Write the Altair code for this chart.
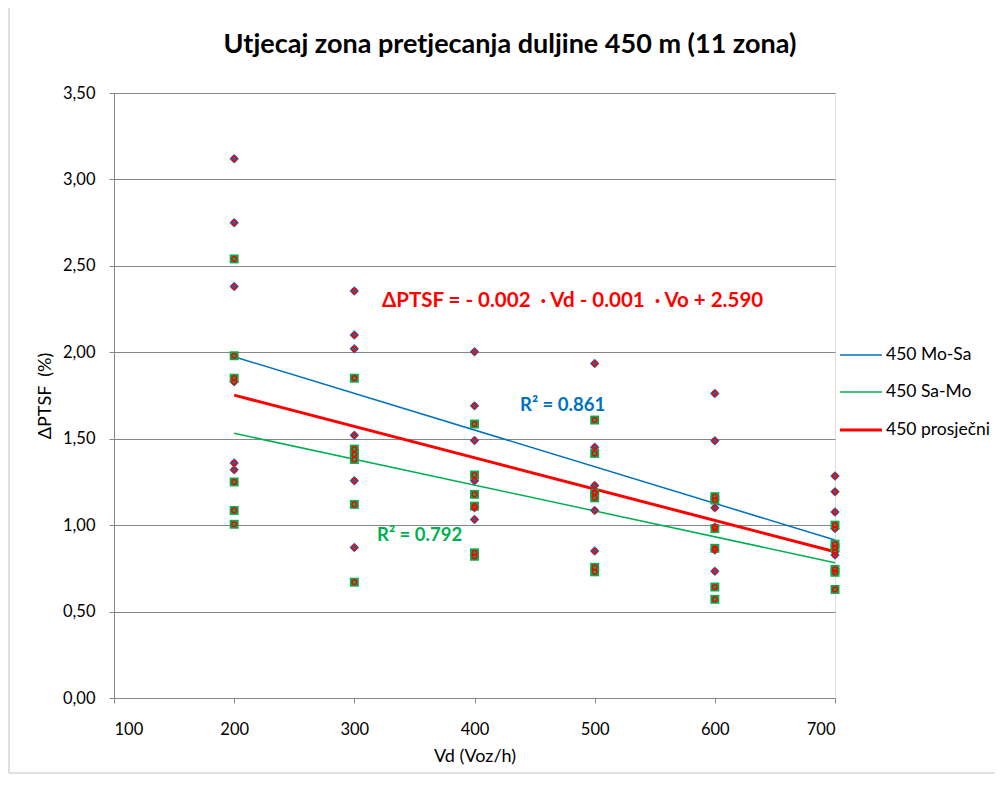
import altair as alt
import pandas as pd

# ---- data ----
vd_mo_sa = [200]*6 + [300]*6 + [400]*6 + [500]*6 + [600]*6 + [700]*6
ptsf_mo_sa = [3.12, 2.75, 2.38, 1.83, 1.36, 1.32,
              2.355, 2.10, 2.02, 1.52, 1.257, 0.87,
              2.003, 1.69, 1.49, 1.257, 1.10, 1.033,
              1.935, 1.45, 1.23, 1.19, 1.085, 0.85,
              1.762, 1.488, 1.10, 0.99, 0.856, 0.733,
              1.284, 1.193, 1.076, 0.98, 0.846, 0.827]
vd_sa_mo = [200]*6 + [300]*6 + [400]*6 + [500]*6 + [600]*6 + [700]*6
ptsf_sa_mo = [2.54, 1.98, 1.85, 1.25, 1.085, 1.005,
              1.85, 1.44, 1.41, 1.38, 1.12, 0.67,
              1.585, 1.29, 1.178, 1.11, 0.84, 0.82,
              1.608, 1.415, 1.184, 1.158, 0.756, 0.73,
              1.165, 1.145, 0.98, 0.866, 0.642, 0.571,
              1.00, 0.89, 0.87, 0.744, 0.727, 0.628]

trend_x = [200, 700]
trend_mo_sa = [1.974, 0.914]
trend_sa_mo = [1.531, 0.783]
trend_avg = [1.752, 0.846]

series_names = ["450 Mo-Sa", "450 Sa-Mo", "450 prosječni"]
series_colors = ["#0070C0", "#00B050", "#FF0000"]

y_ticks = [0, 0.5, 1, 1.5, 2, 2.5, 3, 3.5]
x_ticks = [100, 200, 300, 400, 500, 600, 700]

title_text = "Utjecaj zona pretjecanja duljine 450 m (11 zona)"

FONT = "Lato"
NB = "\u00a0"

df_mo = pd.DataFrame({"Vd": vd_mo_sa, "PTSF": ptsf_mo_sa})
df_sa = pd.DataFrame({"Vd": vd_sa_mo, "PTSF": ptsf_sa_mo})
df_all = pd.concat([df_mo, df_sa], ignore_index=True)

df_trend = pd.DataFrame({
    "Vd": trend_x * 3,
    "PTSF": trend_mo_sa + trend_sa_mo + trend_avg,
    "series": [series_names[0]]*2 + [series_names[1]]*2 + [series_names[2]]*2,
})

xs = alt.Scale(domain=[100, 700], nice=False)
ys = alt.Scale(domain=[0, 3.5], nice=False)

x_enc = alt.X("Vd:Q", scale=xs,
              axis=alt.Axis(values=x_ticks, title="Vd (Voz/h)", grid=False,
                            domainColor="#868686", tickColor="#868686", tickSize=5,
                            labelFont=FONT, labelFontSize=16.5, labelColor="#000000",
                            labelPadding=18,
                            titleFont=FONT, titleFontSize=18, titleFontWeight="normal",
                            titleColor="#000000", titlePadding=10))
y_enc = alt.Y("PTSF:Q", scale=ys,
              axis=alt.Axis(values=y_ticks, title="ΔPTSF" + NB + NB + "(%)",
                            labelExpr="replace(format(datum.value, '.2f'), '.', ',')",
                            grid=True, gridColor="#868686", gridWidth=1,
                            domainColor="#868686", tickColor="#868686", tickSize=5,
                            labelFont=FONT, labelFontSize=16.5, labelColor="#000000",
                            labelPadding=14,
                            titleFont=FONT, titleFontSize=18, titleFontWeight="normal",
                            titleColor="#000000", titlePadding=8))

base_axes = alt.Chart(df_all).mark_point(opacity=0).encode(x=x_enc, y=y_enc)

blue_pts = alt.Chart(df_mo).mark_point(shape="diamond", filled=True, size=90,
                                       color=series_colors[0], opacity=1).encode(
    x=alt.X("Vd:Q", scale=xs), y=alt.Y("PTSF:Q", scale=ys))
green_pts = alt.Chart(df_sa).mark_point(shape="square", filled=True, size=80,
                                        color=series_colors[1], opacity=1).encode(
    x=alt.X("Vd:Q", scale=xs), y=alt.Y("PTSF:Q", scale=ys))
red_pts = alt.Chart(df_all).mark_point(shape="circle", filled=False, size=22,
                                       color=series_colors[2], strokeWidth=1.5,
                                       opacity=1).encode(
    x=alt.X("Vd:Q", scale=xs), y=alt.Y("PTSF:Q", scale=ys))

def trend(name, color, width):
    return alt.Chart(df_trend[df_trend.series == name]).mark_line(
        color=color, strokeWidth=width).encode(
        x=alt.X("Vd:Q", scale=xs), y=alt.Y("PTSF:Q", scale=ys))

lines = [trend(series_names[0], series_colors[0], 1.5),
         trend(series_names[1], series_colors[1], 1.5),
         trend(series_names[2], series_colors[2], 3)]

def label(text, x, y, color, size, weight="bold", align="left"):
    return alt.Chart(pd.DataFrame({"t": [text]})).mark_text(
        font=FONT, fontSize=size, fontWeight=weight, color=color, align=align,
        baseline="middle").encode(text="t:N", x=alt.value(x), y=alt.value(y))

eq = ("ΔPTSF = - 0.002" + NB + NB + "· Vd - 0.001" + NB + NB + "· Vo + 2.590")
annots = [
    label(title_text, 396, -48, "#000000", 27, align="center"),
    label(eq, 268, 208, "#FF0000", 20.5),
    label("R² = 0.861", 406, 312, "#0070C0", 18.5),
    label("R² = 0.792", 263, 442, "#00B050", 18.5),
]

# manual legend
legend_layers = []
leg_y = [262, 299, 337]
widths = [1.5, 1.5, 3]
for name, color, ly, w in zip(series_names, series_colors, leg_y, widths):
    legend_layers.append(
        alt.Chart(pd.DataFrame({"n": [name]})).mark_rule(color=color, strokeWidth=w,
                                                         clip=False).encode(
            x=alt.value(726), x2=alt.value(768), y=alt.value(ly)))
    legend_layers.append(label(name, 772, ly, "#000000", 17.5, weight="normal"))

# outer chart frame (left and bottom edges visible in the reference)
frame = [
    alt.Chart(pd.DataFrame({"n": [0]})).mark_rule(color="#BFBFBF", strokeWidth=1).encode(
        x=alt.value(-105), y=alt.value(-93), y2=alt.value(680)),
    alt.Chart(pd.DataFrame({"n": [0]})).mark_rule(color="#BFBFBF", strokeWidth=1).encode(
        x=alt.value(-105), x2=alt.value(890), y=alt.value(680)),
]

chart = alt.layer(base_axes, *lines, blue_pts, green_pts, red_pts,
                  *annots, *legend_layers, *frame).properties(
    width=721, height=605,
    autosize=alt.AutoSizeParams(type="none"),
    padding={"left": 106, "top": 85, "right": 160, "bottom": 80},
).configure_view(stroke=None).configure(background="white")

chart.save("out.html", embed_options={"renderer": "svg", "actions": False})
